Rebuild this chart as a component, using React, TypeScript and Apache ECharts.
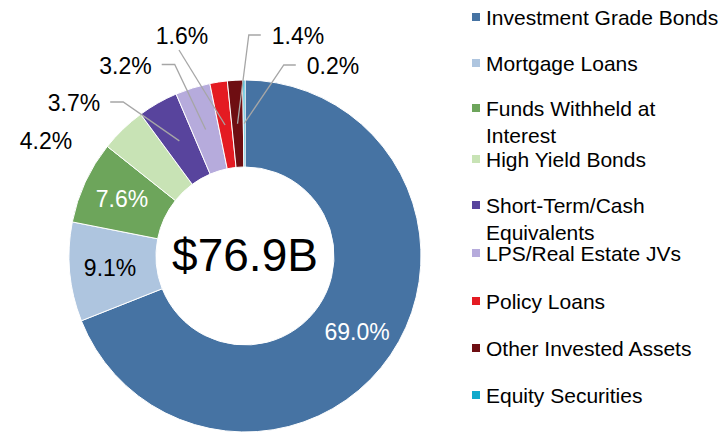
import { useEffect, useRef } from 'react';
import * as echarts from 'echarts';

// ---- data ----
const categories = [
  'Investment Grade Bonds',
  'Mortgage Loans',
  'Funds Withheld at Interest',
  'High Yield Bonds',
  'Short-Term/Cash Equivalents',
  'LPS/Real Estate JVs',
  'Policy Loans',
  'Other Invested Assets',
  'Equity Securities',
];
const values = [69.0, 9.1, 7.6, 4.2, 3.7, 3.2, 1.6, 1.4, 0.2];
const totalLabel = '$76.9B';

// ---- styles / layout ----
const colors = ['#4673A3', '#AEC5DF', '#6DA55B', '#C8E3B5', '#58449D', '#B6ABDC', '#E41B22', '#6E0E12', '#10A9CB'];
const FONT = "'Liberation Sans', Arial, sans-serif";
const LABEL_SIZE = 23;
const CENTER = [245, 256];
const R0 = 89;
const R1 = 176;
const LEGEND_LEFT = 470;
const LEGEND_Y = [17, 63, 108, 159, 205, 253, 301, 348, 395];
const LEGEND_WRAP: Record<string, string> = {
  'Funds Withheld at Interest': ' \nFunds Withheld at\nInterest',
  'Short-Term/Cash Equivalents': ' \nShort-Term/Cash\nEquivalents',
};
type Place = { inside?: string; x?: number; y?: number; side?: 'left' | 'right' | 'above' | 'none' };
const LABEL_PLACE: Place[] = [
  { inside: '#ffffff' },
  { inside: '#000000' },
  { inside: '#ffffff' },
  { x: 46, y: 141, side: 'none' },
  { x: 74, y: 103, side: 'left' },
  { x: 125.5, y: 65.5, side: 'left' },
  { x: 182, y: 36, side: 'above' },
  { x: 298, y: 36, side: 'right' },
  { x: 333, y: 66, side: 'right' },
];

const fmt = (v: number) => v.toFixed(1) + '%';

export default function App() {
  const ref = useRef<HTMLDivElement>(null);
  useEffect(() => {
    document.body.style.margin = '0';
    if (!ref.current) return;
    const chart = echarts.init(ref.current, undefined, { renderer: 'svg' });
    const total = values.reduce((a, b) => a + b, 0);

    const ctx = document.createElement('canvas').getContext('2d')!;
    ctx.font = `${LABEL_SIZE}px ${FONT}`;

    const data = categories.map((name, i) => {
      const p = LABEL_PLACE[i];
      const item: any = { name, value: values[i], itemStyle: { color: colors[i] } };
      if (p.inside) item.label = { position: 'inside', color: p.inside };
      return item;
    });

    // leader lines (from slice mid-angle / mid-radius to the label)
    const leaderLines: any[] = [];
    let cum = 0;
    values.forEach((v, i) => {
      const p = LABEL_PLACE[i];
      const mid = ((cum + v / 2) / total) * Math.PI * 2;
      cum += v;
      if (p.inside || p.side === 'none') return;
      const rm = (R0 + R1) / 2;
      const s = [CENTER[0] + rm * Math.sin(mid), CENTER[1] - rm * Math.cos(mid)];
      const w = ctx.measureText(fmt(v)).width;
      let pts: number[][] = [];
      if (p.side === 'left') {
        const end = [p.x! + w / 2 + 10, p.y! - 1];
        pts = [s, [end[0] + 13, end[1]], end];
      } else if (p.side === 'right') {
        const end = [p.x! - w / 2 - 11, p.y! - 1];
        pts = [s, [end[0] - 12, end[1]], end];
      } else {
        const end = [p.x! - 3, p.y! + 14];
        pts = [s, end];
      }
      leaderLines.push({
        type: 'polyline',
        z: 100,
        silent: true,
        shape: { points: pts },
        style: { stroke: '#A6A6A6', lineWidth: 1.3, fill: 'none' },
      });
    });

    const legends = categories.map((name, i) => {
      const wrapped = !!LEGEND_WRAP[name];
      return {
        data: [name],
        orient: 'vertical',
        left: LEGEND_LEFT,
        top: LEGEND_Y[i] - (wrapped ? 40.5 : 13.5),
        padding: 0,
        itemWidth: 10,
        itemHeight: 10,
        itemGap: 0,
        icon: 'rect',
        selectedMode: false,
        formatter: (n: string) => LEGEND_WRAP[n] || n,
        textStyle: {
          fontSize: 21,
          fontFamily: FONT,
          color: '#000',
          lineHeight: 27,
        },
      };
    });

    const option: any = {
      animation: false,
      legend: legends,
      graphic: [
        {
          type: 'text',
          x: CENTER[0],
          y: CENTER[1] - 1,
          style: {
            text: totalLabel,
            fontSize: 46,
            fontFamily: FONT,
            fill: '#000',
            align: 'center',
            verticalAlign: 'middle',
            textAlign: 'center',
            textVerticalAlign: 'middle',
          },
        },
        ...leaderLines,
      ],
      series: [
        {
          type: 'pie',
          center: CENTER,
          radius: [R0, R1],
          startAngle: 90,
          clockwise: true,
          avoidLabelOverlap: false,
          itemStyle: { borderColor: '#ffffff', borderWidth: 1 },
          label: {
            show: true,
            position: 'outside',
            fontSize: LABEL_SIZE,
            fontFamily: FONT,
            color: '#000',
            formatter: (p: any) => fmt(p.value),
          },
          labelLine: { show: false },
          labelLayout: (params: any) => {
            const p = LABEL_PLACE[params.dataIndex];
            if (!p || p.inside) return {};
            return { x: p.x, y: p.y, align: 'center', verticalAlign: 'middle' };
          },
          data,
        },
      ],
    };
    chart.setOption(option);
    return () => chart.dispose();
  }, []);
  return <div ref={ref} style={{ width: 723, height: 434 }} />;
}
